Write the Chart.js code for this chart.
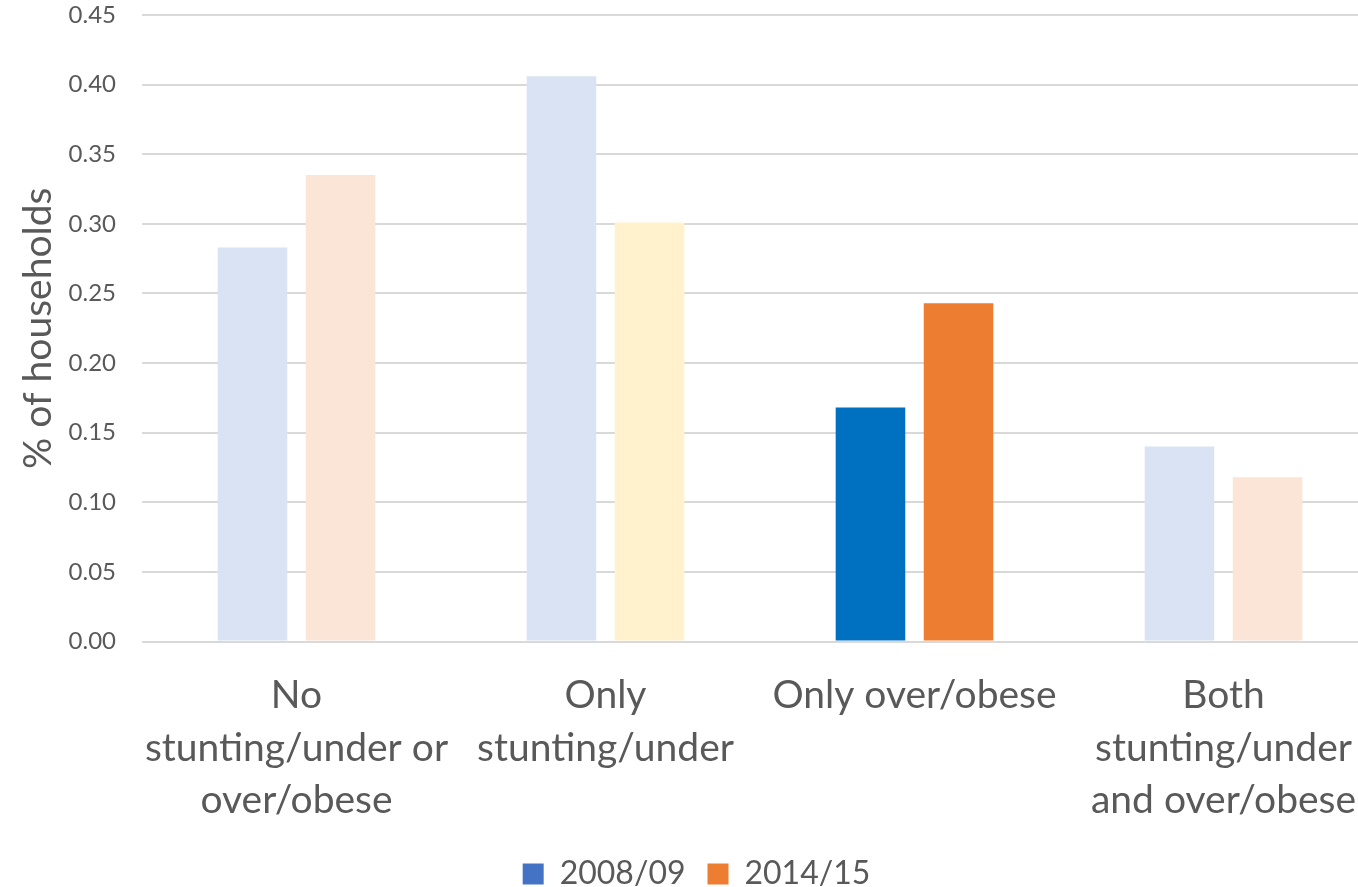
<!DOCTYPE html>
<html>
<head>
<meta charset="utf-8">
<script src="https://cdn.jsdelivr.net/npm/chart.js@4"></script>
<style>
  body { margin: 0; background: #fff; }
  /* the plot runs a little past the right edge, as in the source image */
  #wrap { width: 1358px; height: 887px; overflow: hidden; }
</style>
</head>
<body>
<div id="wrap"><canvas id="chart" width="1378" height="887"></canvas></div>
<script>
// Chart data
const categories = [
    ['No', 'stunting/under or', 'over/obese'],
    ['Only', 'stunting/under'],
    ['Only over/obese'],
    ['Both', 'stunting/under', 'and over/obese']
];
const seriesNames = ['2008/09', '2014/15'];
const values2008 = [0.283, 0.406, 0.168, 0.140];
const values2014 = [0.335, 0.301, 0.243, 0.118];
const yTicks = [0, 0.05, 0.10, 0.15, 0.20, 0.25, 0.30, 0.35, 0.40, 0.45];

document.addEventListener('DOMContentLoaded', function() {
    const ctx = document.getElementById('chart');
    const fontFamily = 'Lato, "Open Sans", sans-serif';
    const legendColors = ['#4472C4', '#ED7D31'];

    new Chart(ctx, {
        type: 'bar',
        data: {
            labels: categories,
            datasets: [{
                label: seriesNames[0],
                data: values2008,
                backgroundColor: ['#DAE3F3', '#DAE3F3', '#0070C0', '#DAE3F3'],
                borderWidth: 0
            }, {
                label: seriesNames[1],
                data: values2014,
                backgroundColor: ['#FBE5D6', '#FFF2CC', '#ED7D31', '#FBE5D6'],
                borderWidth: 0
            }]
        },
        options: {
            responsive: false,
            animation: false,
            categoryPercentage: 0.57,
            barPercentage: 0.79,
            layout: { padding: { left: 15, right: 0, top: 15, bottom: -13 } },
            plugins: {
                tooltip: { enabled: false },
                legend: {
                    position: 'bottom',
                    labels: {
                        color: '#595959',
                        font: { family: fontFamily, size: 32 },
                        boxWidth: 21,
                        boxHeight: 21,
                        padding: 22,
                        generateLabels: function(chart) {
                            return chart.data.datasets.map((ds, i) => ({
                                text: ds.label,
                                fillStyle: legendColors[i],
                                strokeStyle: legendColors[i],
                                lineWidth: 0,
                                fontColor: '#595959',
                                datasetIndex: i
                            }));
                        }
                    }
                }
            },
            scales: {
                x: {
                    grid: { display: false, tickLength: 28 },
                    border: { display: false },
                    afterFit: function(axis) {
                        // leave room between the category labels and the legend
                        axis.height += 9;
                    },
                    ticks: {
                        color: '#595959',
                        font: { family: fontFamily, size: 39, lineHeight: 1.346 },
                        maxRotation: 0,
                        autoSkip: false,
                        padding: 0
                    }
                },
                y: {
                    min: 0,
                    max: 0.45,
                    afterBuildTicks: function(axis) {
                        axis.ticks = yTicks.map(v => ({ value: v }));
                    },
                    afterFit: function(axis) {
                        axis.width = 127;
                        axis.paddingTop = 0;
                        axis.paddingBottom = 0;
                    },
                    grid: { color: '#D9D9D9', lineWidth: 2, drawTicks: false },
                    border: { display: false },
                    ticks: {
                        color: '#595959',
                        font: { family: fontFamily, size: 24 },
                        padding: 26,
                        callback: function(value) {
                            return Number(value).toFixed(2);
                        }
                    },
                    title: {
                        display: true,
                        text: '% of households',
                        color: '#595959',
                        font: { family: fontFamily, size: 39 },
                        padding: { top: 0, bottom: 0 }
                    }
                }
            }
        }
    });
});
</script>
</body>
</html>
